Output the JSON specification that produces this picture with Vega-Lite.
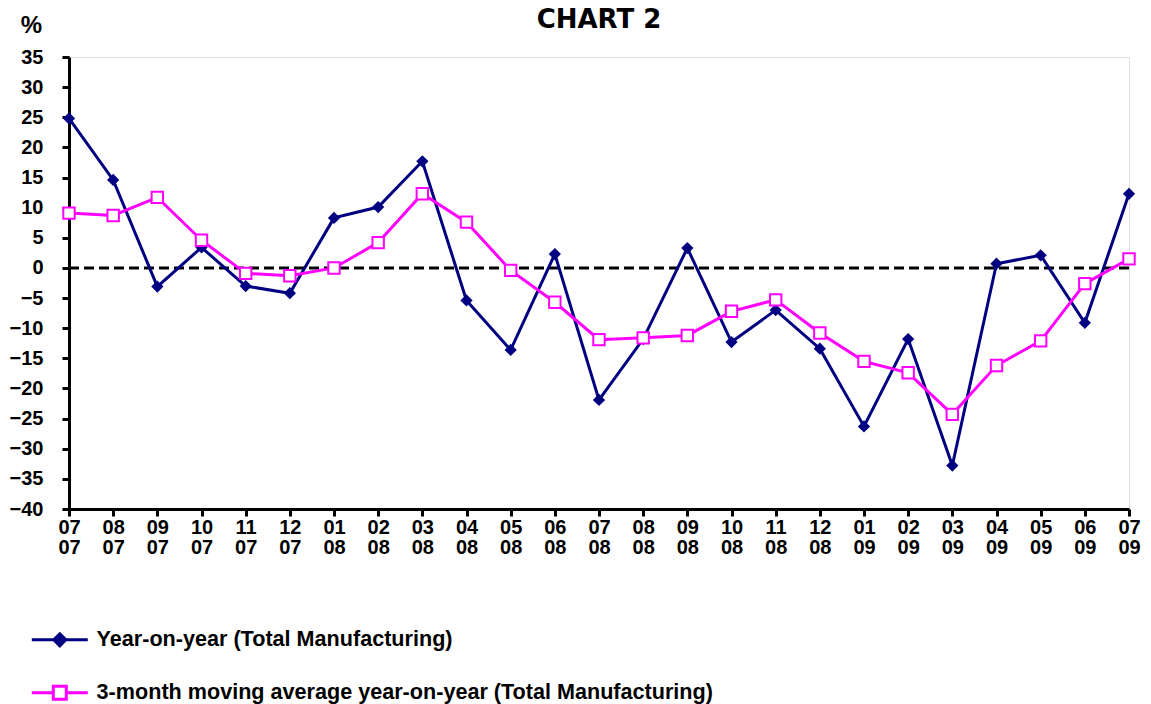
{
  "$schema": "https://vega.github.io/schema/vega-lite/v6.json",
  "width": 1060,
  "height": 452,
  "autosize": {"type": "none"},
  "padding": {"left": 69, "top": 57, "right": 22, "bottom": 195},
  "background": "white",
  "title": {"text": "CHART 2", "font": "DejaVu Sans", "fontSize": 26, "fontWeight": "bold", "color": "black", "anchor": "middle", "offset": -20},
  "data": {"values": [
    {"m": "07/07", "Year-on-year (Total Manufacturing)": 24.8, "3-month moving average year-on-year (Total Manufacturing)": 9.1},
    {"m": "08/07", "Year-on-year (Total Manufacturing)": 14.6, "3-month moving average year-on-year (Total Manufacturing)": 8.7},
    {"m": "09/07", "Year-on-year (Total Manufacturing)": -3.1, "3-month moving average year-on-year (Total Manufacturing)": 11.7},
    {"m": "10/07", "Year-on-year (Total Manufacturing)": 3.4, "3-month moving average year-on-year (Total Manufacturing)": 4.6},
    {"m": "11/07", "Year-on-year (Total Manufacturing)": -3.0, "3-month moving average year-on-year (Total Manufacturing)": -0.9},
    {"m": "12/07", "Year-on-year (Total Manufacturing)": -4.2, "3-month moving average year-on-year (Total Manufacturing)": -1.3},
    {"m": "01/08", "Year-on-year (Total Manufacturing)": 8.3, "3-month moving average year-on-year (Total Manufacturing)": 0.0},
    {"m": "02/08", "Year-on-year (Total Manufacturing)": 10.1, "3-month moving average year-on-year (Total Manufacturing)": 4.2},
    {"m": "03/08", "Year-on-year (Total Manufacturing)": 17.7, "3-month moving average year-on-year (Total Manufacturing)": 12.3},
    {"m": "04/08", "Year-on-year (Total Manufacturing)": -5.4, "3-month moving average year-on-year (Total Manufacturing)": 7.6},
    {"m": "05/08", "Year-on-year (Total Manufacturing)": -13.6, "3-month moving average year-on-year (Total Manufacturing)": -0.4},
    {"m": "06/08", "Year-on-year (Total Manufacturing)": 2.3, "3-month moving average year-on-year (Total Manufacturing)": -5.7},
    {"m": "07/08", "Year-on-year (Total Manufacturing)": -21.9, "3-month moving average year-on-year (Total Manufacturing)": -11.9},
    {"m": "08/08", "Year-on-year (Total Manufacturing)": -11.8, "3-month moving average year-on-year (Total Manufacturing)": -11.6},
    {"m": "09/08", "Year-on-year (Total Manufacturing)": 3.3, "3-month moving average year-on-year (Total Manufacturing)": -11.2},
    {"m": "10/08", "Year-on-year (Total Manufacturing)": -12.3, "3-month moving average year-on-year (Total Manufacturing)": -7.2},
    {"m": "11/08", "Year-on-year (Total Manufacturing)": -7.0, "3-month moving average year-on-year (Total Manufacturing)": -5.3},
    {"m": "12/08", "Year-on-year (Total Manufacturing)": -13.4, "3-month moving average year-on-year (Total Manufacturing)": -10.8},
    {"m": "01/09", "Year-on-year (Total Manufacturing)": -26.3, "3-month moving average year-on-year (Total Manufacturing)": -15.5},
    {"m": "02/09", "Year-on-year (Total Manufacturing)": -11.8, "3-month moving average year-on-year (Total Manufacturing)": -17.4},
    {"m": "03/09", "Year-on-year (Total Manufacturing)": -32.8, "3-month moving average year-on-year (Total Manufacturing)": -24.3},
    {"m": "04/09", "Year-on-year (Total Manufacturing)": 0.7, "3-month moving average year-on-year (Total Manufacturing)": -16.2},
    {"m": "05/09", "Year-on-year (Total Manufacturing)": 2.1, "3-month moving average year-on-year (Total Manufacturing)": -12.1},
    {"m": "06/09", "Year-on-year (Total Manufacturing)": -9.1, "3-month moving average year-on-year (Total Manufacturing)": -2.6},
    {"m": "07/09", "Year-on-year (Total Manufacturing)": 12.3, "3-month moving average year-on-year (Total Manufacturing)": 1.5}
  ]},
  "transform": [
    {"fold": ["Year-on-year (Total Manufacturing)", "3-month moving average year-on-year (Total Manufacturing)"], "as": ["series", "value"]}
  ],
  "encoding": {
    "x": {
      "field": "m", "type": "ordinal", "sort": null,
      "scale": {"type": "point", "padding": 0},
      "axis": {
        "title": null, "labelAngle": 0, "labelExpr": "split(datum.value, '/')",
        "labelFont": "Liberation Sans", "labelFontSize": 20, "labelFontWeight": "bold", "labelColor": "black",
        "labelLineHeight": 20, "labelBaseline": "top", "labelPadding": 1, "labelOverlap": false, "labelBound": false,
        "tickSize": 7, "tickWidth": 3, "tickColor": "black", "domainColor": "black", "domainWidth": 3, "grid": false
      }
    },
    "y": {
      "field": "value", "type": "quantitative",
      "scale": {"domain": [-40, 35], "nice": false, "zero": false},
      "axis": {
        "title": "%", "titleAngle": 0, "titleX": -38, "titleY": -32, "titleAlign": "center", "titleBaseline": "middle",
        "titleFont": "Liberation Sans", "titleFontSize": 24, "titleFontWeight": "bold", "titleColor": "black",
        "values": [-40, -35, -30, -25, -20, -15, -10, -5, 0, 5, 10, 15, 20, 25, 30, 35],
        "labelFont": "Liberation Sans", "labelFontSize": 20, "labelFontWeight": "bold", "labelColor": "black",
        "labelPadding": 19, "tickSize": 7, "tickWidth": 3, "tickColor": "black", "domainColor": "black", "domainWidth": 3, "grid": false
      }
    }
  },
  "layer": [
    {
      "data": {"values": [{"zero": 0}]},
      "mark": {"type": "rule", "strokeDash": [10, 5], "strokeWidth": 3, "color": "black"},
      "encoding": {"x": null, "y": {"field": "zero", "type": "quantitative"}}
    },
    {
      "mark": {"type": "line", "strokeWidth": 3},
      "encoding": {
        "color": {
          "field": "series", "type": "nominal",
          "scale": {"domain": ["Year-on-year (Total Manufacturing)", "3-month moving average year-on-year (Total Manufacturing)"], "range": ["#000080", "#ff00ff"]},
          "legend": {
            "orient": "none", "legendX": -20, "legendY": 572, "direction": "vertical", "title": null, "padding": 0,
            "labelFont": "Liberation Sans", "labelFontSize": 21.6, "labelFontWeight": "bold", "labelColor": "black",
            "labelLimit": 0, "labelOffset": 26, "rowPadding": 28, "symbolSize": 100,
            "encode": {
              "symbols": {
                "update": {
                  "shape": {"signal": "datum.value === 'Year-on-year (Total Manufacturing)' ? 'M-5.6,0L5.6,0M0,-1.2L1.2,0L0,1.2L-1.2,0Z' : 'M-5.6,0L-1.3,0M1.3,0L5.6,0M-1.3,-1.3L1.3,-1.3L1.3,1.3L-1.3,1.3Z'"},
                  "fill": {"signal": "datum.value === 'Year-on-year (Total Manufacturing)' ? '#000080' : '#ffffff'"},
                  "stroke": {"signal": "datum.value === 'Year-on-year (Total Manufacturing)' ? '#000080' : '#ff00ff'"},
                  "strokeWidth": {"value": 3},
                  "opacity": {"value": 1}
                }
              }
            }
          }
        }
      }
    },
    {
      "transform": [{"filter": "datum.series === 'Year-on-year (Total Manufacturing)'"}],
      "mark": {"type": "point", "shape": "diamond", "filled": true, "size": 150, "color": "#000080", "opacity": 1}
    },
    {
      "transform": [{"filter": "datum.series === '3-month moving average year-on-year (Total Manufacturing)'"}],
      "mark": {"type": "point", "shape": "square", "filled": true, "fill": "white", "stroke": "#ff00ff", "strokeWidth": 2, "size": 130, "opacity": 1}
    }
  ]
}
